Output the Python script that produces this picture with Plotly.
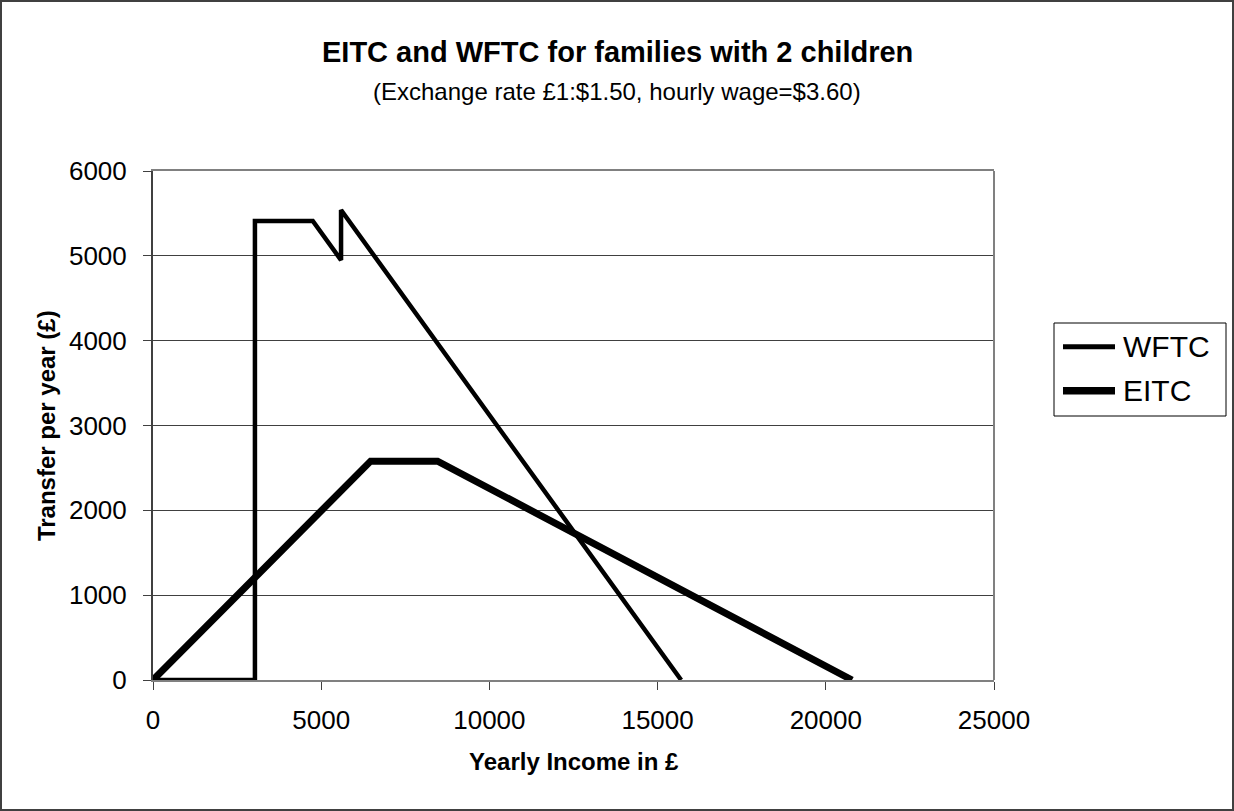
import plotly.graph_objects as go

# Data
series_names = ["WFTC", "EITC"]
wftc_x = [0, 3030, 3030, 4750, 5590, 5590, 15700]
wftc_y = [0, 0, 5410, 5410, 4950, 5540, 0]
eitc_x = [0, 6470, 8460, 20780]
eitc_y = [0, 2580, 2580, 0]

x_ticks = [0, 5000, 10000, 15000, 20000, 25000]
y_ticks = [0, 1000, 2000, 3000, 4000, 5000, 6000]

FONT = "Liberation Sans, Arial, sans-serif"
widths = [4.5, 7]

fig = go.Figure()
fig.add_trace(go.Scatter(x=wftc_x, y=wftc_y, mode="lines", name=series_names[0],
                         line=dict(color="black", width=widths[0]), cliponaxis=False))
fig.add_trace(go.Scatter(x=eitc_x, y=eitc_y, mode="lines", name=series_names[1],
                         line=dict(color="black", width=widths[1]), cliponaxis=False))

W, H = 1234, 811
L, R, T, B = 153, 240, 171, 131
pw = W - L - R
ph = H - T - B

def px(xp):
    return (xp - L) / pw

def py(yp):
    return (H - B - yp) / ph

annotations = [
    dict(text="<b>EITC and WFTC for families with 2 children</b>", xref="paper", yref="paper",
         x=px(617), y=py(51.5), xanchor="center", yanchor="middle", showarrow=False,
         font=dict(size=29, family=FONT)),
    dict(text="(Exchange rate £1:$1.50, hourly wage=$3.60)", xref="paper", yref="paper",
         x=px(617), y=py(92), xanchor="center", yanchor="middle", showarrow=False,
         font=dict(size=24, family=FONT)),
    dict(text="<b>Yearly Income in £</b>", xref="paper", yref="paper",
         x=0.5, y=py(761.5), xanchor="center", yanchor="middle", showarrow=False,
         font=dict(size=24, family=FONT)),
    dict(text="<b>Transfer per year (£)</b>", xref="paper", yref="paper",
         x=px(46.6), y=0.5, xanchor="center", yanchor="middle", showarrow=False,
         textangle=-90, font=dict(size=24, family=FONT)),
]

shapes = [
    dict(type="line", xref="paper", yref="paper", x0=1, x1=1, y0=0, y1=1,
         line=dict(color="#808080", width=2)),
    dict(type="rect", xref="paper", yref="paper",
         x0=px(1), x1=px(W - 1), y0=py(H - 1), y1=py(1),
         line=dict(color="#404040", width=2), layer="below"),
    # legend box
    dict(type="rect", xref="paper", yref="paper",
         x0=px(1054), x1=px(1226), y0=py(416), y1=py(323),
         line=dict(color="black", width=1), fillcolor="white", layer="above"),
]

legend_rows = [346.7, 390.7]
for name, w, yy in zip(series_names, widths, legend_rows):
    shapes.append(dict(type="line", xref="paper", yref="paper",
                       x0=px(1063), x1=px(1115), y0=py(yy), y1=py(yy),
                       line=dict(color="black", width=w + 0.5), layer="above"))
    annotations.append(dict(text=name, xref="paper", yref="paper",
                            x=px(1121), y=py(yy), xanchor="left", yanchor="middle",
                            showarrow=False, font=dict(size=30, family=FONT)))

fig.update_layout(
    width=W, height=H,
    margin=dict(l=L, r=R, t=T, b=B),
    paper_bgcolor="white", plot_bgcolor="white",
    font=dict(family=FONT, color="black", size=26),
    showlegend=False,
    xaxis=dict(range=[0, 25000], tickvals=x_ticks, ticktext=[str(v) for v in x_ticks],
               showgrid=False, zeroline=False, showline=True, linecolor="#808080",
               linewidth=2, mirror=True, ticks="outside", ticklen=8, tickwidth=1,
               tickcolor="#404040", tickfont=dict(size=26, family=FONT),
               layer="below traces", ticklabelstandoff=8),
    yaxis=dict(range=[0, 6000], tickvals=y_ticks, ticktext=[str(v) for v in y_ticks],
               showgrid=True, gridcolor="#404040", gridwidth=1, zeroline=False,
               showline=True, linecolor="#404040", linewidth=2, ticks="outside",
               ticklen=8, tickwidth=1, tickcolor="#404040",
               tickfont=dict(size=26, family=FONT), layer="below traces",
               ticklabelstandoff=11),
    annotations=annotations,
    shapes=shapes,
)

fig.write_html("out.html", config={"displayModeBar": False},
               post_script="document.body.style.margin='0';")
